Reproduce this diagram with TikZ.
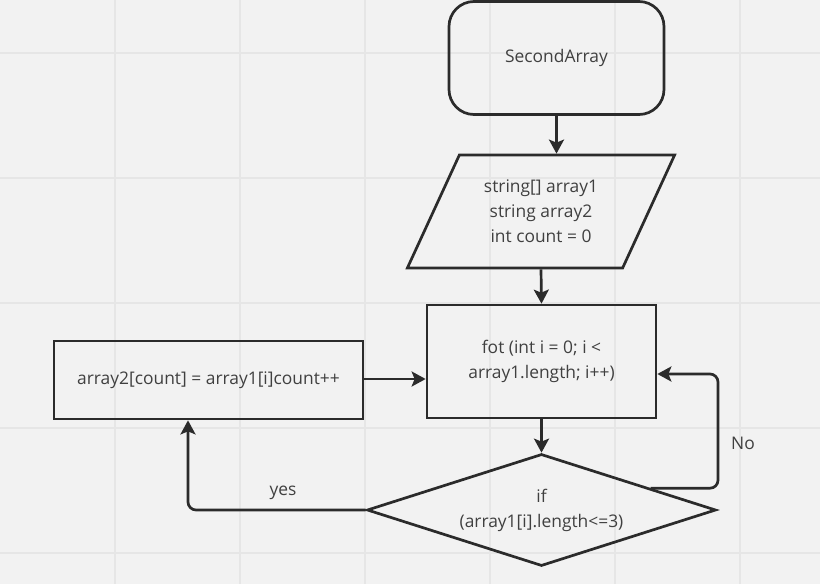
\documentclass[tikz,border=0pt]{standalone}
\usepackage{fontspec}
\setmainfont{Open Sans}
\usetikzlibrary{arrows.meta,shapes.geometric,calc}
\definecolor{bg}{HTML}{F2F2F2}
\definecolor{gridc}{HTML}{E6E6E6}
\definecolor{linec}{HTML}{2B2B2B}
\definecolor{textc}{HTML}{404040}
\tikzset{
  box/.style={draw=linec, line width=2.7pt, fill=none, text=textc, align=center, inner sep=0pt,
    font=\fontsize{17.4}{25}\selectfont},
  conn/.style={draw=linec, line width=2.7pt, -{Stealth[length=14pt,width=15pt,inset=3pt]}},
  lbl/.style={text=textc, font=\fontsize{17.4}{25}\selectfont, inner sep=0pt},
}
\begin{document}
\begin{tikzpicture}[x=1pt,y=-1pt]
\useasboundingbox (0,0) rectangle (820,584);
\fill[bg] (0,0) rectangle (820,584);
\foreach \gx in {115,240,365,490,615,740} \draw[gridc, line width=1.2pt] (\gx,0) -- (\gx,584);
\foreach \gy in {53,178,303,428,553} \draw[gridc, line width=1.2pt] (0,\gy) -- (820,\gy);

\node[box, rounded corners=25pt, minimum width=215pt, minimum height=113pt] (start) at (556.5,58) {SecondArray};
\node[box, trapezium, trapezium left angle=60, trapezium right angle=120, trapezium stretches=true,
  minimum width=268pt, minimum height=113pt] (io) at (541,211.5) {string[] array1\\string array2\\int count = 0};
\node[box, minimum width=229pt, minimum height=113pt] (loop) at (541.5,361.5) {fot (int i = 0; i <\\array1.length; i++)};
\node[box, minimum width=309pt, minimum height=78pt] (body) at (208.5,380) {array2[count] = array1[i]count++};
\node[box, diamond, aspect=3.1, minimum width=349pt, minimum height=112pt] (dec) at (541.5,510) {if\\(array1[i].length<=3)};

\draw[conn] (start.south) -- (start.south |- io.north);
\draw[conn] (io.south) -- (loop.north);
\draw[conn] ([yshift=1pt]body.east) -- ([yshift=1pt]body.east -| loop.west);
\draw[conn] (loop.south) -- (dec.north);

\coordinate (nostart) at ($(dec.north)!0.62!(dec.east)$);
\coordinate (nocorner) at (718,374);
\draw[conn, rounded corners=8pt] (nostart) -| (nocorner) -- (nocorner -| loop.east);
\draw[conn, rounded corners=8pt] (dec.west) -| ([xshift=-20.5pt]body.south);

\node[lbl] (yeslbl) at (283,493) {yes};
\node[lbl] (nolbl) at (743,443) {No};
\end{tikzpicture}
\end{document}
